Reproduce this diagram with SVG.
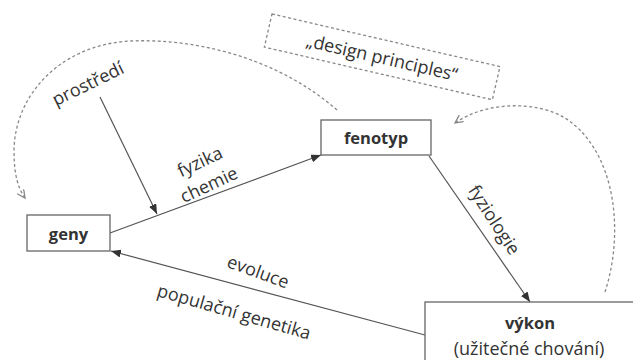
<svg xmlns="http://www.w3.org/2000/svg" width="633" height="360" viewBox="0 0 633 360">
<style>
.box{fill:#fff;stroke:#666;stroke-width:1.3}
.node{font-family:"Open Sans","Liberation Sans",sans-serif;font-weight:bold;font-size:16.5px;fill:#333;text-anchor:middle}
.lbl{font-family:"Open Sans","Liberation Sans",sans-serif;font-size:18px;fill:#333;text-anchor:middle}
.edge{fill:none;stroke:#555;stroke-width:1.2}
.dash{fill:none;stroke:#888;stroke-width:1.3;stroke-dasharray:3 2.5}
</style>
<defs>
<marker id="ah" markerUnits="userSpaceOnUse" markerWidth="12" markerHeight="10" refX="10" refY="4" orient="auto">
<path d="M0,0 L10,4 L0,8 Z" fill="#333"/>
</marker>
<marker id="ahd" markerUnits="userSpaceOnUse" markerWidth="12" markerHeight="10" refX="8" refY="4" orient="auto">
<path d="M0,0 L8,4 L0,8" fill="none" stroke="#888" stroke-width="1.3"/>
</marker>
</defs>
<g id="connectors">
<path class="edge" d="M110,233 L321,155" marker-end="url(#ah)"/>
<path class="edge" d="M100,97 L157,214" marker-end="url(#ah)"/>
<path class="edge" d="M429,156 L530,302" marker-end="url(#ah)"/>
<path class="edge" d="M425,335 L111,251" marker-end="url(#ah)"/>
<path class="dash" d="M337,110 C280,60 200,38 130,41 C60,45 15,95 14,150 C14,175 18,188 25,198" marker-end="url(#ahd)"/>
<path class="dash" d="M605,292 C625,230 615,150 565,118 C535,100 485,102 455,123" marker-end="url(#ahd)"/>
</g>
<g id="design" transform="translate(272,14) rotate(13)">
<path class="dash" d="M0,0 L234,0 L234,34 L0,34 Z"/>
<text class="lbl" x="117" y="24">„design principles“</text>
</g>
<g id="geny">
<rect class="box" x="27" y="215" width="83" height="36"/>
<text class="node" x="68.5" y="240">geny</text>
</g>
<g id="fenotyp">
<rect class="box" x="321" y="120" width="110" height="35"/>
<text class="node" x="376" y="144">fenotyp</text>
</g>
<g id="vykon">
<rect class="box" x="425" y="302" width="220" height="70"/>
<text class="node" x="530" y="329">výkon</text>
<text class="lbl" x="529" y="355">(užitečné chování)</text>
</g>
<g id="labels">
<text class="lbl" transform="translate(88,84) rotate(-26)" y="6">prostředí</text>
<text class="lbl" transform="translate(200,162) rotate(-25)" y="6">fyzika</text>
<text class="lbl" transform="translate(209,185) rotate(-25)" y="6">chemie</text>
<text class="lbl" transform="translate(494,220) rotate(57)" y="6">fyziologie</text>
<text class="lbl" transform="translate(258,272) rotate(20)" y="6">evoluce</text>
<text class="lbl" transform="translate(234,312) rotate(16)" y="6">populační genetika</text>
</g>
</svg>
